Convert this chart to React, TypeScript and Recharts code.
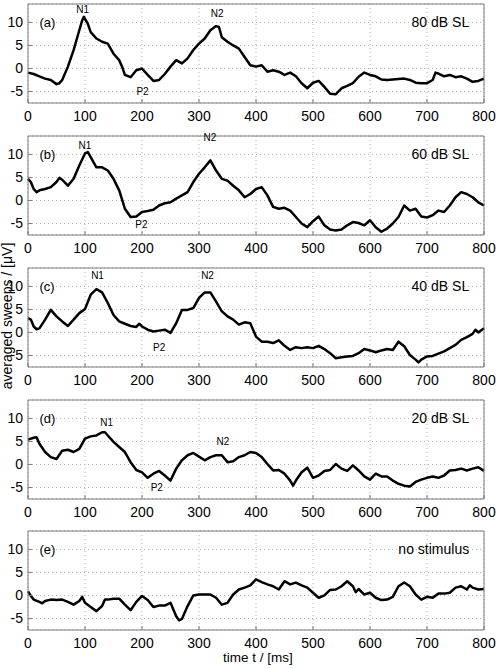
import React from "react";
import {
  LineChart,
  Line,
  XAxis,
  YAxis,
  CartesianGrid,
  ReferenceDot,
} from "recharts";

// Averaged evoked responses (µV) over time (ms), one trace per stimulus level
const sweep80: [number, number][] = [
  [0, -0.9], [10, -1.2], [20, -1.7], [30, -2.2], [40, -2.5], [50, -3.4], [55, -3.2],
  [60, -2.5], [70, 0.4], [80, 4], [90, 8.3], [95, 10.4], [98, 11.2], [105, 9.7],
  [110, 7.9], [120, 6.5], [130, 5.8], [140, 5.4], [150, 3.2], [160, 1.8], [165, 0.4],
  [170, -1.4], [180, -1.9], [190, -0.4], [200, 0], [210, -1.4], [220, -2.7], [230, -2.5],
  [240, -1.2], [250, 0.4], [260, 1.8], [270, 1.1], [280, 2.2], [290, 4], [300, 5.4],
  [310, 6.5], [320, 8.3], [330, 9.2], [335, 9], [340, 6.8], [350, 5.8], [360, 5],
  [370, 4.3], [380, 2.5], [390, 0.7], [400, 0.4], [410, 0.7], [420, -0.7], [430, -0.4],
  [440, -0.7], [450, -1.4], [460, -0.9], [470, -1.7], [480, -3.2], [490, -4.3],
  [500, -3.1], [510, -2.7], [520, -4], [530, -5.5], [540, -5.6], [550, -4.3],
  [560, -3.8], [570, -3.2], [580, -1.8], [590, -0.9], [600, -1.4], [610, -1.7],
  [620, -2.4], [630, -2.5], [640, -2.4], [650, -2.3], [660, -2.2], [670, -2.5],
  [680, -3.1], [690, -3.2], [700, -3.2], [710, -2.5], [715, -0.9], [720, -1.1],
  [730, -1.7], [740, -1.4], [750, -1.9], [760, -1.7], [770, -2.2], [780, -2.9],
  [790, -2.7], [800, -2.2],
];

const sweep60: [number, number][] = [
  [0, 4.7], [5, 4], [10, 2.5], [15, 1.8], [20, 2.2], [30, 2.5], [40, 2.9], [50, 4],
  [55, 4.9], [60, 4.5], [70, 3.2], [80, 4.7], [90, 7.6], [100, 10.2], [105, 10.5],
  [110, 9.4], [120, 7.2], [130, 7.2], [140, 6.5], [150, 4.7], [160, 2.2], [170, -1.8],
  [180, -3.6], [190, -3.5], [200, -2.5], [210, -2.3], [220, -2], [230, -1.1],
  [240, -0.6], [250, -0.4], [260, 0.4], [270, 1.1], [280, 1.8], [290, 4], [300, 5.8],
  [310, 7.2], [320, 8.7], [330, 6.5], [340, 4.7], [350, 4.3], [360, 3.2], [370, 2.2],
  [380, 0.7], [390, 1.4], [400, 2.5], [410, 2.9], [420, 1.1], [430, -1.4], [440, -1.8],
  [450, -1.6], [460, -2.2], [470, -3.6], [480, -5], [490, -5.8], [500, -4.5],
  [510, -3.5], [520, -5.4], [530, -6.3], [540, -6.5], [550, -6.3], [560, -5.4],
  [570, -4.7], [580, -4.9], [590, -5.4], [600, -4.3], [610, -5.8], [620, -6.8],
  [630, -6.1], [640, -5], [650, -3.6], [660, -1.1], [670, -2.2], [680, -1.8],
  [690, -3.5], [700, -3.7], [710, -3.2], [720, -2.2], [730, -2.5], [740, -1.1],
  [750, 0.7], [760, 1.8], [770, 1.4], [780, 0.7], [790, -0.4], [800, -1.1],
];

const sweep40: [number, number][] = [
  [0, 3.1], [5, 2.8], [10, 1.3], [15, 0.7], [20, 0.9], [30, 2.8], [40, 4.9], [50, 3.5],
  [60, 2.4], [70, 1.4], [80, 2.8], [90, 4.2], [100, 5.1], [110, 8.2], [120, 9.4],
  [130, 8.7], [140, 6.4], [150, 3.8], [160, 2.4], [170, 1.9], [180, 1.4], [190, 1.2],
  [195, 1.9], [200, 1.3], [210, 0.6], [220, 0.2], [230, 0.4], [240, 0.6], [250, -0.1],
  [260, 2], [270, 4.9], [280, 4.9], [290, 5.3], [300, 7.5], [310, 8.7], [320, 8.7],
  [330, 6.7], [340, 4.6], [350, 3.5], [360, 2.8], [370, 1.7], [380, 2.2], [390, 2],
  [400, -0.9], [410, -2], [420, -2], [430, -2.3], [440, -1.7], [450, -2.9], [460, -3.8],
  [470, -3.2], [480, -3.4], [490, -3.2], [500, -3.4], [510, -2.9], [520, -3.6],
  [530, -4.5], [540, -5.6], [550, -5.4], [560, -5.2], [570, -5.1], [580, -4.5],
  [590, -3.6], [600, -3.9], [610, -4.3], [620, -3.9], [630, -3.6], [640, -3.8],
  [650, -2], [660, -3], [670, -4.9], [680, -5.9], [685, -6.5], [690, -5.9], [700, -5.2],
  [710, -5.1], [720, -4.6], [730, -4.1], [740, -3.4], [750, -2.7], [760, -1.6],
  [770, -1], [780, -0.3], [785, 0.6], [790, 0], [800, 0.9],
];

const sweep20: [number, number][] = [
  [0, 5.4], [10, 5.8], [15, 5.9], [20, 4.5], [30, 2.7], [40, 1.6], [50, 1.2], [60, 3],
  [70, 3.2], [80, 2.7], [90, 3.4], [100, 5.6], [110, 6.1], [120, 6.3], [130, 7],
  [135, 7], [140, 6.3], [150, 4.9], [160, 3.8], [170, 2.7], [180, 0.5], [190, -1.2],
  [200, -1.7], [210, -2.9], [220, -2], [230, -1.4], [240, -2.4], [250, -3.5],
  [260, -0.9], [270, 0.9], [280, 2], [290, 2.5], [300, 1.7], [310, 0.9], [320, 1.6],
  [330, 2], [340, 2], [350, 0.5], [360, 0.7], [370, 1.6], [380, 2], [390, 2.7],
  [400, 2.5], [410, 1.6], [420, 0.1], [430, -1.3], [440, -1.2], [450, -2], [460, -3.5],
  [465, -4.6], [470, -3.5], [480, -1.7], [490, -0.7], [500, -2.9], [510, -2.4],
  [520, -1.4], [530, -1.2], [540, 0.1], [550, -0.9], [560, -1.4], [570, -0.2],
  [580, -1.3], [590, -2.6], [600, -3.3], [610, -2], [620, -2.6], [630, -2.6],
  [640, -3.5], [650, -4.2], [660, -4.6], [670, -4.8], [680, -3.8], [690, -3.3],
  [700, -2.9], [710, -2.6], [720, -2.9], [730, -2.4], [740, -1.3], [750, -1.2],
  [760, -0.9], [770, -1.3], [780, -0.9], [790, -0.6], [800, -1.4],
];

const sweepNone: [number, number][] = [
  [0, 0.9], [5, -0.1], [10, -0.9], [20, -1.4], [25, -1.7], [30, -1.2], [40, -0.9],
  [50, -1], [60, -0.9], [70, -1.4], [80, -2], [90, -1.2], [95, -0.3], [100, -1.6],
  [110, -2.5], [120, -3.4], [130, -2.3], [135, -0.9], [140, -0.9], [150, -0.7],
  [160, -0.7], [170, -2], [180, -3.2], [190, -1.4], [200, -0.1], [210, -1], [220, -2.5],
  [230, -2.2], [240, -2.2], [250, -1.6], [260, -4.5], [265, -5.4], [270, -5.1],
  [280, -2.3], [290, 0], [300, 0.2], [310, 0.2], [320, 0.2], [330, -0.5], [340, -2],
  [350, -1.6], [360, 0.2], [370, 1.3], [380, 1.7], [390, 2.2], [400, 3.5], [410, 2.9],
  [420, 2.4], [430, 2], [440, 1.3], [450, 3.1], [460, 2.4], [470, 2.8], [480, 2.2],
  [490, 1.7], [500, 0.6], [510, -0.5], [520, 0], [530, 1.2], [540, 1.3], [550, 2],
  [560, 3.1], [570, 2], [575, 0.7], [580, 1.4], [590, 0.2], [600, 0.6], [610, -0.5],
  [620, -1], [630, -0.9], [640, -0.3], [650, 2], [660, 2.8], [670, 2], [680, 0.2],
  [690, -0.9], [700, -0.3], [710, -0.5], [720, 0.4], [730, 0.4], [740, 0.6], [750, 1.7],
  [760, 2], [770, 1.3], [775, 2.2], [780, 1.7], [790, 1.3], [800, 1.4],
];

// Peak labels: [name, time, height]
const peaks80: [string, number, number][] = [["N1", 96, 12.7], ["N2", 332, 12], ["P2", 201, -5.1]];
const peaks60: [string, number, number][] = [["N1", 100, 11.9], ["N2", 319, 13.6], ["P2", 199, -5.3]];
const peaks40: [string, number, number][] = [["N1", 122, 12.3], ["N2", 315, 12.3], ["P2", 230, -3.2]];
const peaks20: [string, number, number][] = [["N1", 138, 9.1], ["N2", 342, 4.9], ["P2", 226, -5.1]];

const panelTags = ["(a)", "(b)", "(c)", "(d)", "(e)"];
const levels = ["80 dB SL", "60 dB SL", "40 dB SL", "20 dB SL", "no stimulus"];
const sweeps = [sweep80, sweep60, sweep40, sweep20, sweepNone];
const peakSets = [peaks80, peaks60, peaks40, peaks20, []];

const xTicks = [0, 100, 200, 300, 400, 500, 600, 700, 800];
const yTicks = [-5, 0, 5, 10];
const yDomain: [number, number] = [-7.5, 14];

const FONT = "'Liberation Sans', Arial, Helvetica, sans-serif";
const AXIS = "#7a7a7a";
const PANEL_STEP = 131.85;

const textShape =
  (label: string, size: number, anchor: "start" | "middle" | "end") =>
  (p: any) =>
    (
      <text
        x={p.cx}
        y={p.cy}
        textAnchor={anchor}
        dominantBaseline="central"
        fontSize={size}
        fontFamily={FONT}
        fill="#000"
      >
        {label}
      </text>
    );

function Panel({ index }: { index: number }) {
  const data = sweeps[index].map(([t, v]) => ({ t, v }));
  return (
    <div style={{ position: "absolute", left: 0, top: index * PANEL_STEP }}>
      <LineChart
        width={496}
        height={132}
        data={data}
        margin={{ top: 3, right: 11, bottom: 4, left: 0 }}
      >
        <CartesianGrid stroke="#b0b0b0" strokeDasharray="1 3" />
        <XAxis
          dataKey="t"
          type="number"
          domain={[0, 800]}
          ticks={xTicks}
          height={25}
          stroke={AXIS}
          tickSize={-4}
          tickMargin={12}
          tick={{ fill: "#000", fontSize: 14, fontFamily: FONT }}
        />
        <XAxis
          xAxisId="top"
          orientation="top"
          type="number"
          domain={[0, 800]}
          ticks={xTicks}
          height={1}
          stroke={AXIS}
          tickSize={-4}
          tick={false}
        />
        <YAxis
          type="number"
          domain={yDomain}
          ticks={yTicks}
          width={28}
          stroke={AXIS}
          tickSize={-4}
          tickMargin={9}
          tick={{ fill: "#000", fontSize: 14, fontFamily: FONT }}
        />
        <YAxis
          yAxisId="right"
          orientation="right"
          type="number"
          domain={yDomain}
          ticks={yTicks}
          width={1}
          stroke={AXIS}
          tickSize={-4}
          tick={false}
        />
        <Line
          dataKey="v"
          type="linear"
          stroke="#000"
          strokeWidth={2.5}
          strokeLinejoin="round"
          dot={false}
          isAnimationActive={false}
        />
        <ReferenceDot x={20} y={10} r={0} shape={textShape(panelTags[index], 13, "start")} />
        <ReferenceDot x={774} y={10} r={0} shape={textShape(levels[index], 14, "end")} />
        {peakSets[index].map(([name, t, v]) => (
          <ReferenceDot key={name} x={t} y={v} r={0} shape={textShape(name, 10, "middle")} />
        ))}
      </LineChart>
    </div>
  );
}

export default function App() {
  return (
    <div
      style={{
        position: "absolute",
        left: 0,
        top: 0,
        width: 496,
        height: 668,
        background: "#fff",
        overflow: "hidden",
      }}
    >
      {sweeps.map((_, i) => (
        <Panel key={i} index={i} />
      ))}
      <svg
        width={496}
        height={668}
        style={{ position: "absolute", left: 0, top: 0, pointerEvents: "none" }}
      >
        <text
          transform="translate(12, 316) rotate(-90)"
          textAnchor="middle"
          fontSize={14}
          fontFamily={FONT}
          fill="#000"
        >
          averaged sweeps / [μV]
        </text>
        <text x={258} y={662} textAnchor="middle" fontSize={13.5} fontFamily={FONT} fill="#000">
          time t / [ms]
        </text>
      </svg>
    </div>
  );
}
